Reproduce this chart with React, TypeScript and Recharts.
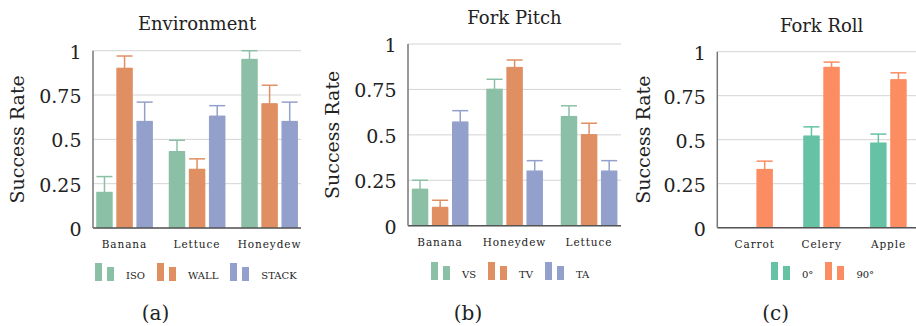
import React from 'react';
import { BarChart, Bar, XAxis, YAxis, CartesianGrid, ErrorBar } from 'recharts';

const FONT = '"DejaVu Serif", serif';
const TEXT = '#222';

// ---- Data ----
const envCategories = ['Banana', 'Lettuce', 'Honeydew'];
const envIso = [0.2, 0.43, 0.95];
const envIsoErr = [0.09, 0.065, 0.05];
const envWall = [0.9, 0.33, 0.7];
const envWallErr = [0.07, 0.06, 0.105];
const envStack = [0.6, 0.63, 0.6];
const envStackErr = [0.11, 0.06, 0.11];

const pitchCategories = ['Banana', 'Honeydew', 'Lettuce'];
const pitchVs = [0.2, 0.75, 0.6];
const pitchVsErr = [0.05, 0.056, 0.06];
const pitchTv = [0.1, 0.87, 0.5];
const pitchTvErr = [0.04, 0.042, 0.064];
const pitchTa = [0.57, 0.3, 0.3];
const pitchTaErr = [0.063, 0.058, 0.058];

const rollCategories = ['Carrot', 'Celery', 'Apple'];
const roll0 = [0, 0.52, 0.48];
const roll0Err = [0, 0.053, 0.052];
const roll90 = [0.33, 0.91, 0.84];
const roll90Err = [0.048, 0.031, 0.04];

const yTicks = [0, 0.25, 0.5, 0.75, 1];
const yTickLabels = ['0', '0.25', '0.5', '0.75', '1'];

const GREEN = '#8cc0a6';
const ORANGE = '#e08f62';
const BLUE = '#94a0cc';
const TEAL = '#66c2a5';
const CORAL = '#fc8d62';

type Series = { name: string; values: number[]; errors: number[]; color: string };

const envSeries: Series[] = [
  { name: 'ISO', values: envIso, errors: envIsoErr, color: GREEN },
  { name: 'WALL', values: envWall, errors: envWallErr, color: ORANGE },
  { name: 'STACK', values: envStack, errors: envStackErr, color: BLUE },
];
const pitchSeries: Series[] = [
  { name: 'VS', values: pitchVs, errors: pitchVsErr, color: GREEN },
  { name: 'TV', values: pitchTv, errors: pitchTvErr, color: ORANGE },
  { name: 'TA', values: pitchTa, errors: pitchTaErr, color: BLUE },
];
const rollSeries: Series[] = [
  { name: '0°', values: roll0, errors: roll0Err, color: TEAL },
  { name: '90°', values: roll90, errors: roll90Err, color: CORAL },
];

function buildData(categories: string[], series: Series[]) {
  return categories.map((c, i) => {
    const row: any = { pos: i, category: c };
    series.forEach((s, k) => {
      row['v' + k] = s.values[i];
      row['e' + k] = [0, s.errors[i]];
    });
    return row;
  });
}

const YTitle = (props: any) => {
  const { viewBox, cx } = props;
  const cy = viewBox.y + viewBox.height / 2;
  return (
    <text
      x={cx}
      y={cy}
      transform={`rotate(-90 ${cx} ${cy})`}
      textAnchor="middle"
      dominantBaseline="central"
      style={{ fontFamily: FONT, fontSize: 19, fill: TEXT }}
    >
      Success Rate
    </text>
  );
};

const YTick = (props: any) => {
  const { x, y, payload } = props;
  const idx = yTicks.indexOf(payload.value);
  return (
    <text x={x} y={y} dy={8} textAnchor="end" style={{ fontFamily: FONT, fontSize: 19, fill: TEXT }}>
      {idx >= 0 ? yTickLabels[idx] : String(payload.value)}
    </text>
  );
};

const makeXTick = (categories: string[]) => (props: any) => {
  const { x, y, payload } = props;
  return (
    <text
      x={x}
      y={y}
      dy={8}
      textAnchor="middle"
      style={{ fontFamily: FONT, fontSize: 10.5, letterSpacing: '0.9px', fill: TEXT }}
    >
      {categories[payload.value]}
    </text>
  );
};

type PanelProps = {
  left: number;
  width: number;
  yAxisWidth: number;
  marginRight: number;
  top: number;
  zeroY: number;
  domain: [number, number];
  categories: string[];
  series: Series[];
  yLabelX: number;
  title: string;
  titleBaseline: number;
  legendLeft: number;
  legendTop: number;
  caption: string;
  captionX: number;
};

const Panel = (p: PanelProps) => {
  const data = buildData(p.categories, p.series);
  const XTick = makeXTick(p.categories);
  const plotCenter = p.left + p.yAxisWidth + (p.width - p.yAxisWidth - p.marginRight) / 2;
  return (
    <>
      <div style={{ position: 'absolute', left: p.left, top: 0, width: p.width, height: 326 }}>
        <BarChart
          width={p.width}
          height={326}
          data={data}
          margin={{ top: p.top, right: p.marginRight, bottom: 326 - p.zeroY - 30, left: 0 }}
          barSize={16.5}
          barGap={3.6}
        >
          <CartesianGrid vertical={false} stroke="#d4d4d4" strokeWidth={1} />
          <XAxis
            dataKey="pos"
            type="number"
            domain={p.domain}
            allowDataOverflow
            ticks={[0, 1, 2]}
            interval={0}
            height={30}
            tickLine={false}
            tickSize={0}
            tickMargin={12}
            tick={<XTick />}
            axisLine={{ stroke: '#555', strokeWidth: 1.5 }}
          />
          <YAxis
            width={p.yAxisWidth}
            domain={[0, 1]}
            ticks={yTicks}
            interval={0}
            tickLine={false}
            tickSize={0}
            tickMargin={11.5}
            tick={<YTick />}
            axisLine={{ stroke: '#777', strokeWidth: 1.5 }}
            label={<YTitle cx={p.yLabelX} />}
          />
          {p.series.map((s, k) => (
            <Bar key={s.name} dataKey={'v' + k} fill={s.color} isAnimationActive={false}>
              <ErrorBar dataKey={'e' + k} width={8} stroke={s.color} strokeWidth={1.5} direction="y" />
            </Bar>
          ))}
        </BarChart>
      </div>
      <div
        style={{
          position: 'absolute',
          left: plotCenter - 100,
          width: 200,
          top: p.titleBaseline - 15.2,
          textAlign: 'center',
          fontFamily: FONT,
          fontSize: 18,
          lineHeight: '18px',
          color: TEXT,
          whiteSpace: 'nowrap',
        }}
      >
        {p.title}
      </div>
      <div
        style={{
          position: 'absolute',
          left: p.legendLeft,
          top: p.legendTop,
          display: 'flex',
          alignItems: 'flex-end',
          fontFamily: FONT,
          color: TEXT,
        }}
      >
        {p.series.map((s) => (
          <div key={s.name} style={{ display: 'flex', alignItems: 'flex-end', marginRight: 12 }}>
            <div style={{ width: 7, height: 18, background: s.color }} />
            <div style={{ width: 7, height: 14, background: s.color, marginLeft: 5 }} />
            <span style={{ marginLeft: 12, fontSize: 10, lineHeight: '10px', whiteSpace: 'nowrap' }}>{s.name}</span>
          </div>
        ))}
      </div>
      <div
        style={{
          position: 'absolute',
          left: p.captionX - 40,
          width: 80,
          top: 302.5,
          textAlign: 'center',
          fontFamily: FONT,
          fontSize: 20,
          lineHeight: '20px',
          color: TEXT,
        }}
      >
        {p.caption}
      </div>
    </>
  );
};

export default function App() {
  return (
    <div
      style={{
        position: 'absolute',
        left: 0,
        top: 0,
        width: 916,
        height: 326,
        overflow: 'hidden',
        background: '#fff',
      }}
    >
      <Panel
        left={0}
        width={310}
        yAxisWidth={93}
        marginRight={9}
        top={50.7}
        zeroY={228}
        domain={[-0.434, 2.434]}
        categories={envCategories}
        series={envSeries}
        yLabelX={16.6}
        title="Environment"
        titleBaseline={30}
        legendLeft={95}
        legendTop={263}
        caption="(a)"
        captionX={155.5}
      />
      <Panel
        left={310}
        width={320}
        yAxisWidth={98}
        marginRight={9}
        top={44}
        zeroY={225.7}
        domain={[-0.43, 2.43]}
        categories={pitchCategories}
        series={pitchSeries}
        yLabelX={22}
        title="Fork Pitch"
        titleBaseline={24}
        legendLeft={431}
        legendTop={262}
        caption="(b)"
        captionX={468}
      />
      <Panel
        left={630}
        width={316}
        yAxisWidth={87.3}
        marginRight={20}
        top={51.7}
        zeroY={227.7}
        domain={[-0.56, 2.56]}
        categories={rollCategories}
        series={rollSeries}
        yLabelX={13}
        title="Fork Roll"
        titleBaseline={32}
        legendLeft={771}
        legendTop={262}
        caption="(c)"
        captionX={775.7}
      />
    </div>
  );
}
